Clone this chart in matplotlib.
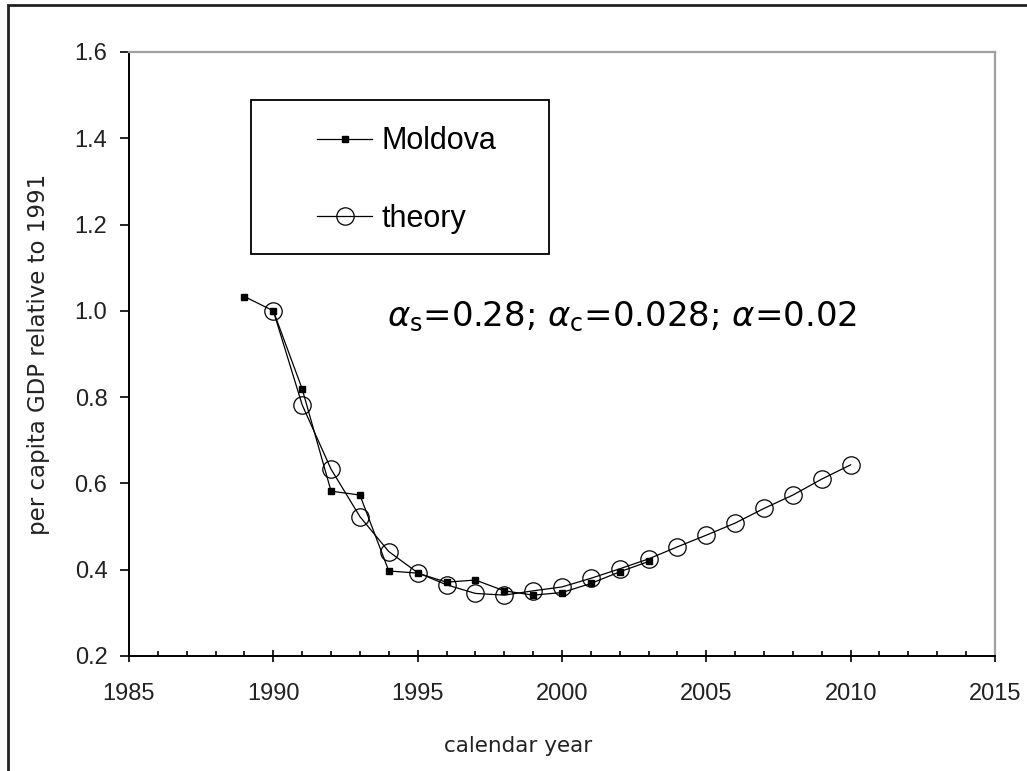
import numpy as np
import matplotlib
matplotlib.use("Agg")
import matplotlib.pyplot as plt
from matplotlib.patches import Rectangle
from matplotlib.ticker import MultipleLocator

plt.rcParams['font.family'] = ['Liberation Sans', 'DejaVu Sans']
plt.rcParams['mathtext.fontset'] = 'dejavusans'

# observed per capita GDP, Moldova (1991 = 1)
moldova_years = np.arange(1989, 2004)
moldova_gdp = [1.033, 1.0, 0.819, 0.582, 0.573, 0.397, 0.392, 0.371, 0.376,
               0.351, 0.341, 0.347, 0.368, 0.395, 0.419]

# model curve
theory_years = np.arange(1990, 2011)
theory_gdp = [1.0, 0.782, 0.633, 0.523, 0.442, 0.393, 0.365, 0.345, 0.341,
              0.351, 0.36, 0.38, 0.402, 0.425, 0.453, 0.48, 0.508, 0.542,
              0.573, 0.61, 0.643]

xticks = [1985, 1990, 1995, 2000, 2005, 2010, 2015]
yticks = [0.2, 0.4, 0.6, 0.8, 1.0, 1.2, 1.4, 1.6]

fig = plt.figure(figsize=(10.27, 7.71), dpi=100)
ax = fig.add_axes([0.1256, 0.1492, 0.8432, 0.7834])

ax.plot(moldova_years, moldova_gdp, color='black', lw=0.9, marker='s',
        ms=4.5, mfc='black', mec='black', label='Moldova', zorder=3)
ax.plot(theory_years, theory_gdp, color='black', lw=0.9, marker='o',
        ms=12.5, mfc='none', mec='black', mew=0.9, label='theory', zorder=4)

ax.set_xlim(1985, 2015)
ax.set_ylim(0.2, 1.6)
ax.set_xticks(xticks)
ax.set_yticks(yticks)
ax.set_yticklabels([f'{v:.1f}' for v in yticks])
ax.xaxis.set_minor_locator(MultipleLocator(1))

ax.tick_params(axis='x', which='major', direction='inout', length=9,
               width=1.2, labelsize=17, pad=15, labelcolor='#222222')
ax.tick_params(axis='x', which='minor', direction='in', length=3.5, width=1.2)
ax.tick_params(axis='y', which='major', direction='out', length=6.5,
               width=1.2, labelsize=17, pad=9, labelcolor='#222222')

for side in ('left', 'bottom'):
    ax.spines[side].set_color('black')
    ax.spines[side].set_linewidth(1.4)
for side in ('top', 'right'):
    ax.spines[side].set_color('#a0a0a0')
    ax.spines[side].set_linewidth(1.6)

ax.set_xlabel('calendar year', fontsize=15.5, family='DejaVu Sans',
              color='#222222')
ax.xaxis.set_label_coords(0.449, -0.132)
ax.set_ylabel('per capita GDP relative to 1991', fontsize=16.5,
              family='DejaVu Sans', color='#222222')
ax.yaxis.set_label_coords(-0.0912, 0.5)

ax.text(0.298, 0.545,
        r'$\alpha_{\mathrm{s}}$=0.28; $\alpha_{\mathrm{c}}$=0.028; $\alpha$=0.02',
        transform=ax.transAxes, fontsize=24.5, family='DejaVu Sans',
        ha='left', va='baseline')

# legend box with its own frame
ax.add_patch(Rectangle((0.1409, 0.6656), 0.344, 0.2549, transform=ax.transAxes,
                       fill=False, edgecolor='black', lw=1.3, zorder=5))
ax.legend(loc='upper left', bbox_to_anchor=(0.2175, 0.877), frameon=False,
          fontsize=22, handlelength=1.8, handletextpad=0.3, labelspacing=1.56,
          borderpad=0, borderaxespad=0)

# outer chart border
fig.patches.append(Rectangle((8 / 1027, -0.1), 1.2, 1.1 - 5 / 771,
                             transform=fig.transFigure, fill=False,
                             edgecolor='#222222', lw=2))

fig.savefig('out.png', dpi=100)
